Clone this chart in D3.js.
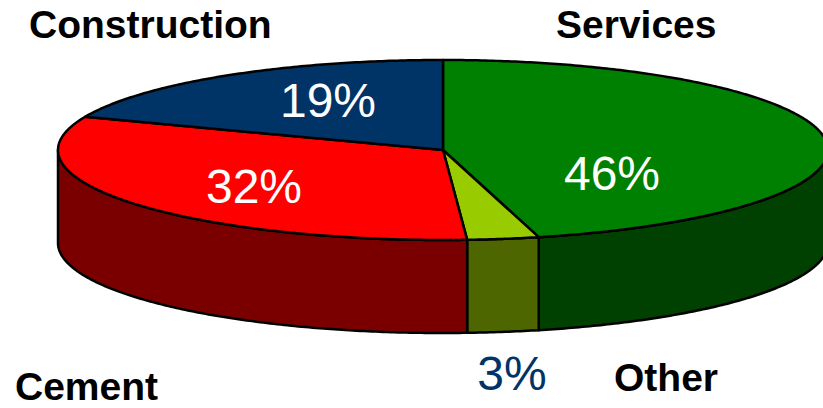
<!DOCTYPE html>
<html>
<head>
<meta charset="utf-8">
<script src="https://cdn.jsdelivr.net/npm/d3@7/dist/d3.min.js"></script>
<style>
  html, body { margin: 0; padding: 0; background: #fff; }
  svg { display: block; }
</style>
</head>
<body>
<svg id="chart" width="823" height="408"></svg>
<script>
// Share of activity by business line (percent), clockwise from 12 o'clock
const categories = ["Services", "Other", "Cement", "Construction"];
const shares = [46, 3, 32, 19];
const topColors = ["#008000", "#99cc00", "#ff0000", "#003366"];
const sideColors = ["#004000", "#4d6600", "#7a0000", "#002244"];

// Layout of the tilted disc
const W = 823, H = 408;
const cx = 443, cy = 150, rx = 385, ry = 90, depth = 93;

// Where each name and percentage is written
const nameLayout = {
  Construction: { x: 29, y: 38 },
  Services: { x: 556, y: 38 },
  Cement: { x: 15, y: 400 },
  Other: { x: 614, y: 391 }
};
const pctLayout = {
  Construction: { x: 328, y: 117, fill: "#ffffff" },
  Cement: { x: 254, y: 203, fill: "#ffffff" },
  Services: { x: 612, y: 190, fill: "#ffffff" },
  Other: { x: 512, y: 390, fill: "#003366" }
};

const data = categories.map((c, i) => ({
  name: c, share: shares[i], top: topColors[i], side: sideColors[i]
}));

const pie = d3.pie().sort(null).value(d => d.share)
  .startAngle(0).endAngle(2 * Math.PI);
const arcs = pie(data);

// Unit-circle to screen scales (the disc is squashed vertically)
const sx = d3.scaleLinear().domain([-1, 1]).range([cx - rx, cx + rx]);
const sy = d3.scaleLinear().domain([-1, 1]).range([cy - ry, cy + ry]);
const px = a => sx(Math.sin(a));
const py = a => sy(-Math.cos(a));

function rimPoints(a0, a1, dy) {
  const n = Math.max(2, Math.ceil((a1 - a0) / 0.01));
  return d3.range(n + 1).map(k => {
    const a = a0 + (a1 - a0) * k / n;
    return [px(a), py(a) + dy];
  });
}

const line = d3.line();
const svg = d3.select("#chart");

// Side walls: only the front half (angles pi/2 .. 3pi/2) is visible
const frontA = Math.PI / 2, frontB = 3 * Math.PI / 2;
const sides = svg.append("g");
arcs.forEach(d => {
  const a0 = Math.max(d.startAngle, frontA);
  const a1 = Math.min(d.endAngle, frontB);
  if (a1 <= a0) return;
  const upper = rimPoints(a0, a1, 0);
  const lower = rimPoints(a0, a1, depth).reverse();
  sides.append("path")
    .attr("d", line(upper.concat(lower)) + "Z")
    .attr("fill", d.data.side)
    .attr("stroke", "#000")
    .attr("stroke-width", 2.5)
    .attr("stroke-linejoin", "round");
});

// Top faces
const tops = svg.append("g");
arcs.forEach(d => {
  const pts = [[cx, cy]].concat(rimPoints(d.startAngle, d.endAngle, 0));
  tops.append("path")
    .attr("d", line(pts) + "Z")
    .attr("fill", d.data.top)
    .attr("stroke", "#000")
    .attr("stroke-width", 2.5)
    .attr("stroke-linejoin", "round");
});

// Percentage labels
svg.append("g").selectAll("text")
  .data(arcs)
  .join("text")
  .attr("x", d => pctLayout[d.data.name].x)
  .attr("y", d => pctLayout[d.data.name].y)
  .attr("text-anchor", "middle")
  .attr("font-family", "'Liberation Sans', Arial, sans-serif")
  .attr("font-size", 48)
  .attr("fill", d => pctLayout[d.data.name].fill)
  .text(d => d.data.share + "%");

// Category names
svg.append("g").selectAll("text")
  .data(data)
  .join("text")
  .attr("x", d => nameLayout[d.name].x)
  .attr("y", d => nameLayout[d.name].y)
  .attr("font-family", "'Liberation Sans', Arial, sans-serif")
  .attr("font-weight", "bold")
  .attr("font-size", 39)
  .attr("fill", "#000")
  .text(d => d.name);
</script>
</body>
</html>
